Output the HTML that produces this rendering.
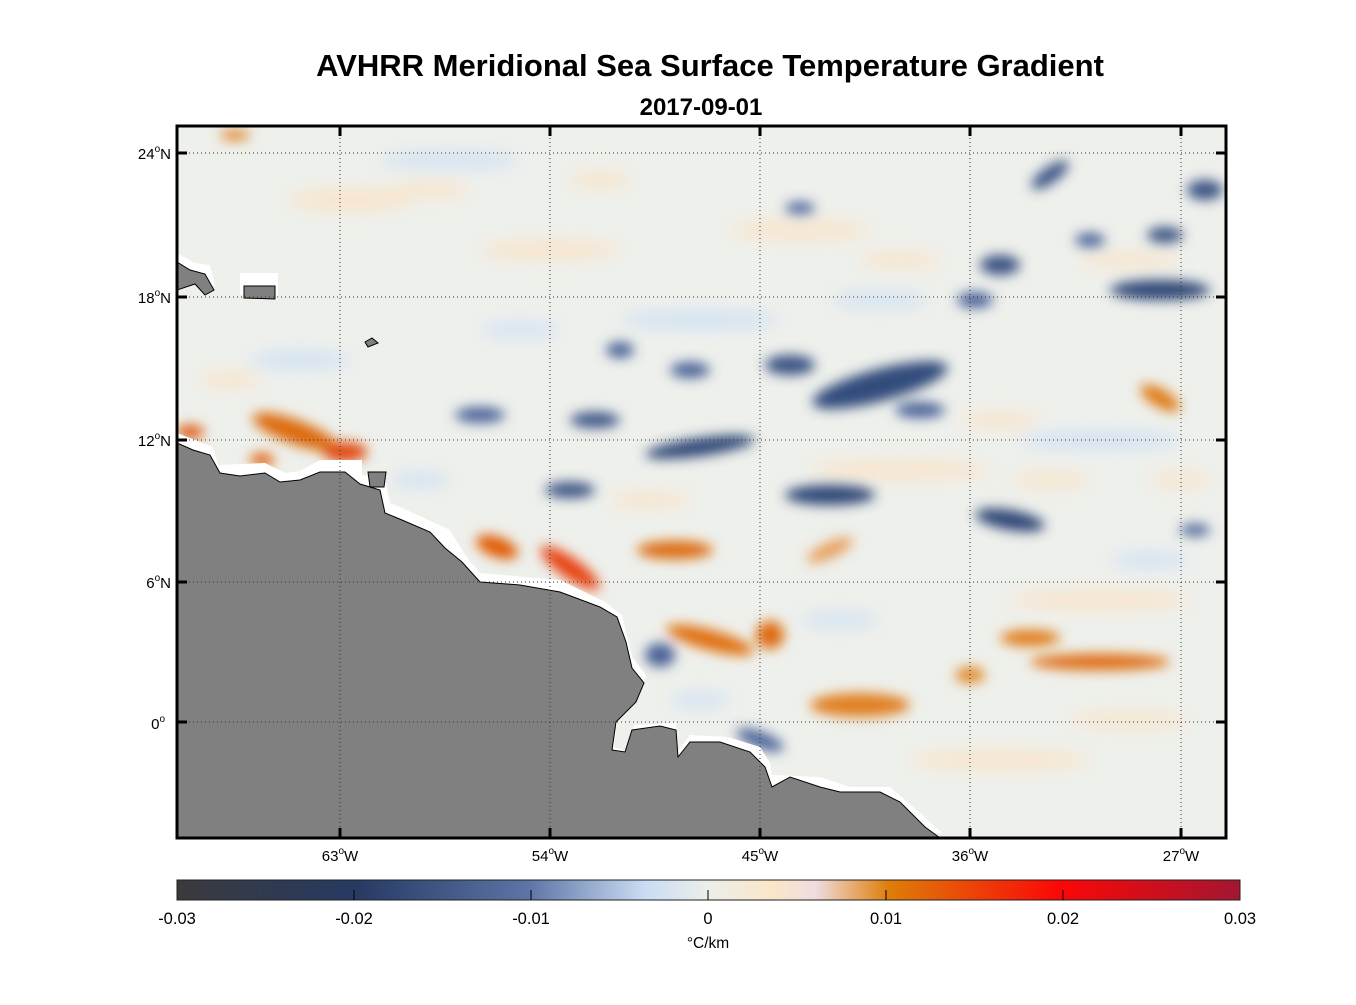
<!DOCTYPE html><html><head><style>body{margin:0;background:#fff;font-family:"Liberation Sans",Arial,sans-serif}</style></head><body>
<svg width="1356" height="1000" viewBox="0 0 1356 1000" xmlns="http://www.w3.org/2000/svg" font-family="Liberation Sans, Arial, sans-serif">
<defs>
<filter id="b" x="-50%" y="-50%" width="200%" height="200%"><feGaussianBlur stdDeviation="6"/></filter>
<filter id="b2" x="-50%" y="-50%" width="200%" height="200%"><feGaussianBlur stdDeviation="8"/></filter>
<linearGradient id="cb"><stop offset="0" stop-color="#3a3a3c"/><stop offset=".17" stop-color="#263a63"/><stop offset=".33" stop-color="#5d74a5"/><stop offset=".44" stop-color="#c9dcf3"/><stop offset=".5" stop-color="#ecefe9"/><stop offset=".56" stop-color="#fbe6c8"/><stop offset=".6" stop-color="#efdde0"/><stop offset=".67" stop-color="#de7d08"/><stop offset=".83" stop-color="#fb0707"/><stop offset="1" stop-color="#a31631"/></linearGradient>
<clipPath id="c"><rect x="177" y="126" width="1049" height="712"/></clipPath>
</defs>
<text x="710" y="76" text-anchor="middle" font-size="31" font-weight="bold">AVHRR Meridional Sea Surface Temperature Gradient</text>
<text x="701" y="115" text-anchor="middle" font-size="24" font-weight="bold">2017-09-01</text>
<g clip-path="url(#c)">
<rect x="177" y="126" width="1049" height="712" fill="#eef0ec"/>
<g filter="url(#b2)" opacity=".8">
<ellipse cx="350" cy="200" rx="60" ry="12" fill="#fbe3c6"/><ellipse cx="550" cy="250" rx="70" ry="10" fill="#fbe3c6"/>
<ellipse cx="800" cy="230" rx="70" ry="10" fill="#fbe3c6"/><ellipse cx="300" cy="360" rx="50" ry="10" fill="#cfe0f4"/>
<ellipse cx="700" cy="320" rx="80" ry="10" fill="#cfe0f4"/><ellipse cx="900" cy="470" rx="90" ry="10" fill="#fbe3c6"/>
<ellipse cx="1100" cy="600" rx="90" ry="10" fill="#fbe3c6"/><ellipse cx="1000" cy="760" rx="90" ry="10" fill="#fbe3c6"/>
<ellipse cx="450" cy="160" rx="70" ry="9" fill="#cfe0f4"/><ellipse cx="1100" cy="440" rx="80" ry="10" fill="#cfe0f4"/>
<ellipse cx="430" cy="190" rx="40" ry="8" fill="#fbe3c6"/><ellipse cx="600" cy="180" rx="30" ry="8" fill="#fbe3c6"/>
<ellipse cx="900" cy="260" rx="40" ry="8" fill="#fbe3c6"/><ellipse cx="880" cy="300" rx="50" ry="8" fill="#cfe0f4"/>
<ellipse cx="520" cy="330" rx="40" ry="8" fill="#cfe0f4"/><ellipse cx="230" cy="380" rx="30" ry="8" fill="#fbe3c6"/>
<ellipse cx="1130" cy="260" rx="50" ry="8" fill="#fbe3c6"/><ellipse cx="1050" cy="480" rx="40" ry="8" fill="#fbe3c6"/>
<ellipse cx="1130" cy="720" rx="60" ry="8" fill="#fbe3c6"/><ellipse cx="840" cy="620" rx="40" ry="8" fill="#cfe0f4"/>
<ellipse cx="700" cy="700" rx="30" ry="8" fill="#cfe0f4"/><ellipse cx="650" cy="500" rx="40" ry="8" fill="#fbe3c6"/>
<ellipse cx="420" cy="480" rx="30" ry="8" fill="#cfe0f4"/><ellipse cx="1000" cy="420" rx="40" ry="8" fill="#fbe3c6"/>
<ellipse cx="1180" cy="480" rx="30" ry="8" fill="#fbe3c6"/><ellipse cx="1150" cy="560" rx="40" ry="8" fill="#cfe0f4"/>
</g>
<g filter="url(#b)">
<ellipse cx="295" cy="432" rx="45" ry="12" fill="#dc6a08" transform="rotate(20 295 432)"/>
<ellipse cx="345" cy="452" rx="22" ry="10" fill="#e14a08"/>
<ellipse cx="190" cy="432" rx="14" ry="7" fill="#dc5a08"/>
<ellipse cx="262" cy="460" rx="12" ry="7" fill="#e0660a"/>
<ellipse cx="497" cy="547" rx="22" ry="10" fill="#e05a06" transform="rotate(20 497 547)"/>
<ellipse cx="570" cy="568" rx="35" ry="10" fill="#e8400a" transform="rotate(35 570 568)"/>
<ellipse cx="675" cy="550" rx="38" ry="9" fill="#dc6a08"/>
<ellipse cx="710" cy="640" rx="45" ry="10" fill="#e07010" transform="rotate(15 710 640)"/>
<ellipse cx="770" cy="635" rx="14" ry="14" fill="#de6a08"/>
<ellipse cx="860" cy="705" rx="50" ry="12" fill="#e08020"/>
<ellipse cx="1100" cy="662" rx="70" ry="8" fill="#de6a08"/>
<ellipse cx="1030" cy="638" rx="30" ry="8" fill="#e07a18"/>
<ellipse cx="970" cy="675" rx="15" ry="8" fill="#e08a28"/>
<ellipse cx="1160" cy="398" rx="22" ry="9" fill="#e07a18" transform="rotate(30 1160 398)"/>
<ellipse cx="830" cy="550" rx="25" ry="8" fill="#e8a060" transform="rotate(-25 830 550)"/>
<ellipse cx="235" cy="135" rx="15" ry="6" fill="#e09040"/>
<ellipse cx="700" cy="447" rx="55" ry="9" fill="#2d4676" transform="rotate(-8 700 447)"/>
<ellipse cx="570" cy="490" rx="25" ry="8" fill="#3a5283"/>
<ellipse cx="595" cy="420" rx="25" ry="8" fill="#3c5486"/>
<ellipse cx="480" cy="415" rx="25" ry="8" fill="#4c649a"/>
<ellipse cx="880" cy="385" rx="70" ry="16" fill="#334c7c" transform="rotate(-15 880 385)"/>
<ellipse cx="790" cy="365" rx="25" ry="10" fill="#3a5283"/>
<ellipse cx="690" cy="370" rx="20" ry="8" fill="#4a6296"/>
<ellipse cx="1010" cy="520" rx="35" ry="10" fill="#2d4676" transform="rotate(10 1010 520)"/>
<ellipse cx="830" cy="495" rx="45" ry="10" fill="#2d4676"/>
<ellipse cx="1160" cy="290" rx="50" ry="10" fill="#2d4676"/>
<ellipse cx="1050" cy="175" rx="22" ry="8" fill="#3a5283" transform="rotate(-35 1050 175)"/>
<ellipse cx="1205" cy="190" rx="18" ry="10" fill="#3a5283"/>
<ellipse cx="1165" cy="235" rx="18" ry="8" fill="#3a5283"/>
<ellipse cx="1000" cy="265" rx="20" ry="10" fill="#3a5283"/>
<ellipse cx="975" cy="300" rx="18" ry="8" fill="#4a6296"/>
<ellipse cx="1090" cy="240" rx="15" ry="7" fill="#4a6296"/>
<ellipse cx="620" cy="350" rx="14" ry="8" fill="#4a6296"/>
<ellipse cx="660" cy="655" rx="15" ry="12" fill="#4a6296"/>
<ellipse cx="760" cy="740" rx="25" ry="8" fill="#4a6296" transform="rotate(20 760 740)"/>
<ellipse cx="1195" cy="530" rx="15" ry="6" fill="#4a6296"/>
<ellipse cx="800" cy="208" rx="15" ry="6" fill="#4a6296"/>
<ellipse cx="920" cy="410" rx="25" ry="8" fill="#4a6296"/>
</g>
<path d="M177,258 L195,268 L210,270 L215,290 L205,295 L195,285 L177,290Z M240,278 L278,278 L278,305 L240,300Z M177,438 L195,445 L213,452 L218,470 L265,468 L285,478 L300,476 L320,465 L362,465 L362,480 L385,485 L390,508 L400,512 L450,535 L465,560 L480,578 L560,585 L605,607 L622,620 L632,662 L646,680 L640,700 L618,722 L614,752 L628,756 L634,730 L676,728 L677,757 L690,740 L728,742 L760,752 L770,768 L772,780 L820,782 L850,792 L890,792 L920,818 L942,838 L177,838Z" fill="#fff" transform="translate(0,-5)"/>
<path d="M177,262 L190,270 L205,274 L214,290 L205,295 L195,284 L177,290Z M244,286 L275,286 L275,299 L244,298Z M177,443 L193,450 L210,455 L220,473 L240,476 L265,473 L280,482 L300,480 L320,472 L345,472 L360,484 L380,490 L385,513 L402,520 L430,532 L445,548 L462,562 L480,582 L520,585 L560,592 L600,607 L617,617 L626,642 L632,668 L644,683 L636,702 L616,722 L612,750 L625,752 L632,730 L660,726 L676,730 L678,757 L690,742 L720,742 L750,752 L765,767 L772,787 L790,777 L820,787 L840,792 L880,792 L900,802 L925,827 L940,838 L177,838Z M365,342 L372,338 L378,343 L368,347Z M368,472 L386,472 L384,487 L370,487Z" fill="#808080" stroke="#000" stroke-width="1"/>
</g>
<g stroke="#333" stroke-width="1" stroke-dasharray="1,3" fill="none">
<line x1="177" y1="153" x2="1226" y2="153"/><line x1="177" y1="297" x2="1226" y2="297"/><line x1="177" y1="440" x2="1226" y2="440"/><line x1="177" y1="582" x2="1226" y2="582"/><line x1="177" y1="722" x2="1226" y2="722"/>
<line x1="340" y1="126" x2="340" y2="838"/><line x1="550" y1="126" x2="550" y2="838"/><line x1="760" y1="126" x2="760" y2="838"/><line x1="970" y1="126" x2="970" y2="838"/><line x1="1181" y1="126" x2="1181" y2="838"/>
</g>
<rect x="177" y="126" width="1049" height="712" fill="none" stroke="#000" stroke-width="3"/>
<g stroke="#000" stroke-width="3">
<line x1="177" y1="153" x2="187" y2="153"/><line x1="1216" y1="153" x2="1226" y2="153"/>
<line x1="177" y1="297" x2="187" y2="297"/><line x1="1216" y1="297" x2="1226" y2="297"/>
<line x1="177" y1="440" x2="187" y2="440"/><line x1="1216" y1="440" x2="1226" y2="440"/>
<line x1="177" y1="582" x2="187" y2="582"/><line x1="1216" y1="582" x2="1226" y2="582"/>
<line x1="177" y1="722" x2="187" y2="722"/><line x1="1216" y1="722" x2="1226" y2="722"/>
<line x1="340" y1="126" x2="340" y2="136"/><line x1="340" y1="828" x2="340" y2="838"/>
<line x1="550" y1="126" x2="550" y2="136"/><line x1="550" y1="828" x2="550" y2="838"/>
<line x1="760" y1="126" x2="760" y2="136"/><line x1="760" y1="828" x2="760" y2="838"/>
<line x1="970" y1="126" x2="970" y2="136"/><line x1="970" y1="828" x2="970" y2="838"/>
<line x1="1181" y1="126" x2="1181" y2="136"/><line x1="1181" y1="828" x2="1181" y2="838"/>
</g>
<g font-size="15" text-anchor="end">
<text x="171" y="159">24<tspan font-size="10" dy="-7">o</tspan><tspan dy="7">N</tspan></text>
<text x="171" y="303">18<tspan font-size="10" dy="-7">o</tspan><tspan dy="7">N</tspan></text>
<text x="171" y="446">12<tspan font-size="10" dy="-7">o</tspan><tspan dy="7">N</tspan></text>
<text x="171" y="588">6<tspan font-size="10" dy="-7">o</tspan><tspan dy="7">N</tspan></text>
<text x="165" y="729">0<tspan font-size="10" dy="-7">o</tspan></text>
</g>
<g font-size="15" text-anchor="middle">
<text x="340" y="861">63<tspan font-size="10" dy="-7">o</tspan><tspan dy="7">W</tspan></text>
<text x="550" y="861">54<tspan font-size="10" dy="-7">o</tspan><tspan dy="7">W</tspan></text>
<text x="760" y="861">45<tspan font-size="10" dy="-7">o</tspan><tspan dy="7">W</tspan></text>
<text x="970" y="861">36<tspan font-size="10" dy="-7">o</tspan><tspan dy="7">W</tspan></text>
<text x="1181" y="861">27<tspan font-size="10" dy="-7">o</tspan><tspan dy="7">W</tspan></text>
</g>
<rect x="177" y="880" width="1063" height="20" fill="url(#cb)" stroke="#222" stroke-width="1"/>
<g stroke="#000" stroke-width="1"><line x1="354" y1="890" x2="354" y2="900"/><line x1="531" y1="890" x2="531" y2="900"/><line x1="708" y1="890" x2="708" y2="900"/><line x1="886" y1="890" x2="886" y2="900"/><line x1="1063" y1="890" x2="1063" y2="900"/></g>
<g font-size="16.5" text-anchor="middle">
<text x="177" y="924">-0.03</text><text x="354" y="924">-0.02</text><text x="531" y="924">-0.01</text><text x="708" y="924">0</text><text x="886" y="924">0.01</text><text x="1063" y="924">0.02</text><text x="1240" y="924">0.03</text>
<text x="708" y="948" font-size="15.5">°C/km</text>
</g>
</svg>
</body></html>
